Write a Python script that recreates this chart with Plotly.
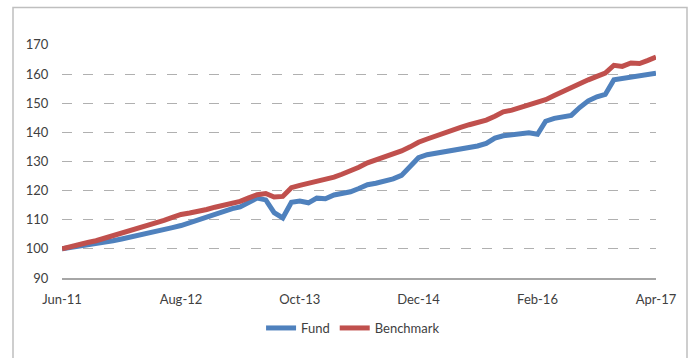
import pandas as pd
import plotly.graph_objects as go

# Monthly index levels, Jun-2011 = 100
months = pd.date_range("2011-06-01", "2017-04-01", freq="MS")

fund = [
    100.0, 100.4, 100.8, 101.2, 101.7, 102.2, 102.8, 103.4, 104.0, 104.6,
    105.3, 105.9, 106.6, 107.3, 108.0, 109.0, 109.9, 110.8, 112.0, 113.2,
    113.8, 114.4, 115.8, 117.4, 116.8, 112.4, 110.6, 116.0, 116.4, 115.8,
    117.4, 117.2, 118.5, 119.0, 119.6, 120.7, 122.0, 122.5, 123.2, 124.0,
    125.2, 128.2, 131.3, 132.3, 132.8, 133.2, 133.7, 134.1, 134.6, 135.3,
    136.2, 138.0, 138.8, 139.1, 139.5, 139.8, 139.3, 143.8, 144.8, 145.2,
    145.8, 148.5, 150.8, 152.2, 153.0, 158.0, 158.4, 158.9, 159.3, 159.8,
    160.3,
]

benchmark = [
    100.0, 100.8, 101.5, 102.2, 102.8, 103.7, 104.5, 105.3, 106.0, 106.8,
    107.8, 108.7, 109.8, 110.8, 111.8, 112.3, 112.7, 113.5, 114.3, 115.0,
    115.6, 116.3, 117.5, 118.6, 119.0, 117.8, 118.0, 121.0, 121.8, 122.4,
    123.1, 123.8, 124.6, 125.6, 126.6, 128.0, 129.5, 130.5, 131.5, 132.5,
    133.6, 135.0, 136.6, 137.7, 138.8, 139.9, 140.8, 141.7, 142.6, 143.4,
    144.2, 145.5, 147.0, 147.6, 148.5, 149.2, 150.0, 151.2, 152.6, 154.0,
    155.1, 156.6, 158.0, 159.2, 160.3, 163.0, 162.6, 163.8, 163.6, 164.6,
    165.8,
]

tick_dates = ["2011-06-01", "2012-08-01", "2013-10-01", "2014-12-01", "2016-02-01", "2017-04-01"]
tick_labels = ["Jun-11", "Aug-12", "Oct-13", "Dec-14", "Feb-16", "Apr-17"]
y_ticks = [90, 100, 110, 120, 130, 140, 150, 160, 170]

FONT = "Lato, 'Open Sans', sans-serif"
TEXT = "#404040"

fig = go.Figure()
fig.add_trace(go.Scatter(x=months, y=fund, name="Fund", mode="lines",
                         line=dict(color="#4F81BD", width=5)))
fig.add_trace(go.Scatter(x=months, y=benchmark, name="Benchmark", mode="lines",
                         line=dict(color="#C0504D", width=5)))

W, H = 692, 358
ml, mr, mt, mb = 62, 36, 44, 80
pw, ph = W - ml - mr, H - mt - mb

# outer chart frame (in pixel terms converted to paper coordinates)
def px_x(p):
    return (p - ml) / pw

def px_y(p):
    return (H - mb - p) / ph

fig.add_shape(type="rect", xref="paper", yref="paper",
              x0=px_x(13), x1=px_x(687), y0=px_y(370), y1=px_y(7.5),
              line=dict(color="#bfbfbf", width=1.5), fillcolor="rgba(0,0,0,0)",
              layer="below")

fig.update_layout(
    width=W, height=H,
    margin=dict(l=ml, r=mr, t=mt, b=mb),
    paper_bgcolor="white", plot_bgcolor="white",
    font=dict(family=FONT, size=13, color=TEXT),
    showlegend=True,
    legend=dict(orientation="h", x=0.49, xanchor="center",
                y=px_y(328), yanchor="middle",
                font=dict(family=FONT, size=13, color=TEXT),
                itemwidth=30, tracegroupgap=0),
    xaxis=dict(
        range=["2011-06-01", "2017-04-01"],
        tickvals=tick_dates, ticktext=tick_labels,
        showgrid=False, zeroline=False,
        showline=True, linecolor="#a6a6a6", linewidth=1.5,
        ticks="outside", ticklen=9, tickcolor="rgba(0,0,0,0)",
        tickfont=dict(family=FONT, size=13, color=TEXT),
    ),
    yaxis=dict(
        range=[90, 170.3],
        tickvals=y_ticks,
        showgrid=True, gridcolor="#b0b0b0", gridwidth=1, griddash="10px,11px",
        zeroline=False, showline=False,
        ticks="outside", ticklen=10, tickcolor="rgba(0,0,0,0)",
        tickfont=dict(family=FONT, size=13, color=TEXT),
    ),
)

fig.write_html("out.html")
